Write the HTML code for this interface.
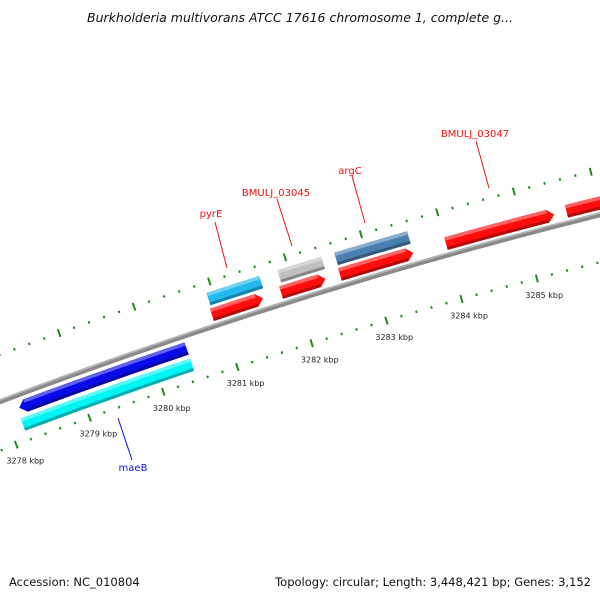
<!DOCTYPE html>
<html><head><meta charset="utf-8"><style>
html,body{margin:0;padding:0;background:#fff;}
svg{display:block;font-family:"DejaVu Sans","Liberation Sans",sans-serif;}
</style></head><body>
<svg id="map" width="600" height="600" viewBox="0 0 600 600" xmlns="http://www.w3.org/2000/svg">
<rect width="600" height="600" fill="#fff"/>
<text x="300" y="22" text-anchor="middle" font-size="12.5" font-style="italic" fill="#111" font-family="DejaVu Sans, sans-serif">Burkholderia multivorans ATCC 17616 chromosome 1, complete g...</text>
<g id="plot" transform="translate(0,3)"></g>
<text x="9" y="586" font-size="11.5" fill="#111" font-family="DejaVu Sans, sans-serif">Accession: NC_010804</text>
<text x="591" y="586" font-size="11.5" fill="#111" text-anchor="end" font-family="DejaVu Sans, sans-serif">Topology: circular; Length: 3,448,421 bp; Genes: 3,152</text>
</svg>
<script>
// data (kbp positions)
const geneNames = ["maeB","maeB-cog","pyrE","pyrE-cds","BMULJ_03045","BMULJ_03045-cds","argC","argC-cds","BMULJ_03047","next-gene"];
const geneStarts = [3278.2,3278.17,3280.92,3280.9,3281.86,3281.82,3282.61,3282.6,3284.0,3285.58];
const geneEnds = [3280.46,3280.46,3281.62,3281.58,3282.44,3282.41,3283.57,3283.57,3285.42,3287.5];
const geneTracks = [-1,-2,2,1,2,1,2,1,1,1];
const geneStrands = [-1,0,0,1,0,1,0,1,1,1];
const geneColors = ["#0a0ae8","#00f5f5","#22b8ee","#ff0d0d","#c0c0c0","#ff0d0d","#4a7fb0","#ff0d0d","#ff0d0d","#ff0d0d"];
const labelTexts = ["maeB","pyrE","BMULJ_03045","argC","BMULJ_03047"];
const labelColors = ["#1010ee","#ee1010","#ee1010","#ee1010","#ee1010"];
const tickStart = 3277.4, tickEnd = 3287.2, tickStep = 0.2;
const majorTickLabels = ["3278 kbp","3279 kbp","3280 kbp","3281 kbp","3282 kbp","3283 kbp","3284 kbp","3285 kbp","3286 kbp"];
const majorTickValues = [3278,3279,3280,3281,3282,3283,3284,3285,3286];

const NS="http://www.w3.org/2000/svg";
const plot=document.getElementById('plot');
const CX=1918, CY=5500, RB=5450;
function ang(k){return -18.12+(k-3281)*0.828;}
function pt(r,a){const t=a*Math.PI/180;return [CX+r*Math.sin(t),CY-r*Math.cos(t)];}
function f(p){return p[0].toFixed(2)+","+p[1].toFixed(2);}
function band(r1,r2,a1,a2){
  return "M"+f(pt(r2,a1))+"A"+r2+","+r2+" 0 0 1 "+f(pt(r2,a2))+"L"+f(pt(r1,a2))+"A"+r1+","+r1+" 0 0 0 "+f(pt(r1,a1))+"Z";
}
function gene(r1,r2,a1,a2,strand){
  const d=0.07, rm=(r1+r2)/2;
  if(strand===1){
    return "M"+f(pt(r2,a1))+"A"+r2+","+r2+" 0 0 1 "+f(pt(r2,a2-d))+"L"+f(pt(rm,a2))+"L"+f(pt(r1,a2-d))+"A"+r1+","+r1+" 0 0 0 "+f(pt(r1,a1))+"Z";
  } else if(strand===-1){
    return "M"+f(pt(r2,a1+d))+"A"+r2+","+r2+" 0 0 1 "+f(pt(r2,a2))+"L"+f(pt(r1,a2))+"A"+r1+","+r1+" 0 0 0 "+f(pt(r1,a1+d))+"L"+f(pt(rm,a1))+"Z";
  }
  return band(r1,r2,a1,a2);
}
function mk(tag,attrs){const e=document.createElementNS(NS,tag);for(const k in attrs)e.setAttribute(k,attrs[k]);return e;}
function shade(hex,amt){let n=parseInt(hex.slice(1),16);let r=n>>16,g=(n>>8)&255,b=n&255;
  const m=c=>Math.max(0,Math.min(255,Math.round(amt>0?c+(255-c)*amt:c*(1+amt))));
  return "rgb("+m(r)+","+m(g)+","+m(b)+")";}

// backbone
const bb=mk('path',{d:band(RB-2.5,RB+2.5,-22,-11),fill:"#8a8a8a"});


plot.appendChild(bb);
const bbh=mk('path',{d:band(RB+0.8,RB+2.5,-22,-11),fill:"#b5b5b5"});


plot.appendChild(bbh);

// ticks
const ringOut=RB+44, ringIn=RB-46;
const nT=Math.round((tickEnd-tickStart)/tickStep);
for(let i=0;i<=nT;i++){
  const k=tickStart+i*tickStep;
  const major=Math.abs(k-Math.round(k))<1e-6;
  const a=ang(k);
  const L=major?4:1.2;
  [ringOut,ringIn].forEach((r)=>{
    const p1=pt(r-L,a),p2=pt(r+L,a);
    const t=mk('line',{x1:p1[0],y1:p1[1],x2:p2[0],y2:p2[1],stroke:"#1f8a1f","stroke-width":2});
    
    
    plot.appendChild(t);
  });
}
majorTickValues.forEach((k,i)=>{
  const p=pt(ringIn-17,ang(k));
  const t=mk('text',{x:p[0]+3,y:p[1]+3,"text-anchor":"middle","font-size":"8",fill:"#222"});
  t.textContent=majorTickLabels[i];
  
  
  plot.appendChild(t);
});

// genes
const trackR={1:[RB+5,RB+18],2:[RB+21,RB+34],"-1":[RB-19,RB-6],"-2":[RB-36,RB-23]};
geneNames.forEach((n,i)=>{
  const [r1,r2]=trackR[geneTracks[i]];
  const a1=ang(geneStarts[i]),a2=ang(geneEnds[i]);
  const g=mk('g',{});
  
  
  const c=geneColors[i];
  g.appendChild(mk('path',{d:gene(r1,r2,a1,a2,geneStrands[i]),fill:c}));
  g.appendChild(mk('path',{d:band(r2-3.5,r2,a1+(geneStrands[i]===-1?0.07:0),a2-(geneStrands[i]===1?0.07:0)),fill:shade(c,0.35)}));
  g.appendChild(mk('path',{d:band(r1,r1+3,a1+(geneStrands[i]===-1?0.07:0),a2-(geneStrands[i]===1?0.07:0)),fill:shade(c,-0.3)}));
  plot.appendChild(g);
});

// labels
const labelPos=[[133,468],[211,214],[276,193],[350,171],[475,134]];
const lineEnds=[[[118,415],[132,457]],[[215,219],[227,265]],[[277,196],[292,243]],[[352,173],[365,220]],[[476,138],[489,185]]];
labelTexts.forEach((s,i)=>{
  const l=mk('line',{x1:lineEnds[i][0][0],y1:lineEnds[i][0][1],x2:lineEnds[i][1][0],y2:lineEnds[i][1][1],stroke:labelColors[i],"stroke-width":1});
  
  
  plot.appendChild(l);
  const t=mk('text',{x:labelPos[i][0],y:labelPos[i][1],"text-anchor":"middle","font-size":"10",fill:labelColors[i]});
  t.textContent=s;
  
  
  plot.appendChild(t);
});
</script>
</body></html>
